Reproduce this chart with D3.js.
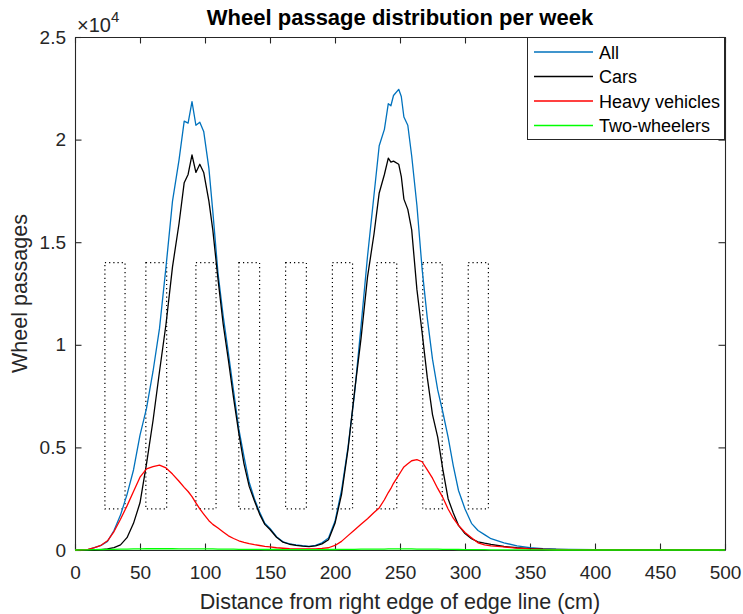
<!DOCTYPE html>
<html>
<head>
<meta charset="utf-8">
<script src="https://cdn.jsdelivr.net/npm/d3@7"></script>
<style>
  body { margin: 0; background: #fff; }
  svg { display: block; font-family: "Liberation Sans", Arial, sans-serif; }
  .axis text { fill: #262626; font-size: 19px; }
  .axis path, .axis line { stroke: #262626; }
</style>
</head>
<body>
<svg id="chart"></svg>
<script>
// Data (distance in cm, wheel passages per week)
var distance = [0, 5, 10, 15, 20, 25, 30, 35, 40, 45, 50, 55, 60, 65, 70, 75, 80, 84, 87, 90, 93, 96, 99,
  103, 106, 110, 114, 118, 122, 126, 130, 134, 138, 142, 146, 150, 155, 160, 165, 170, 175, 180, 185,
  190, 195, 200, 205, 210, 215, 220, 225, 230, 234, 238, 241, 243, 245, 249, 251, 253, 256, 259, 263,
  267, 271, 275, 279, 283, 287, 291, 295, 300, 305, 310, 315, 320, 330, 340, 350, 360, 370, 380, 400,
  450, 500];

var allWheels = [0, 0, 20, 120, 220, 420, 950, 1700, 2700, 3900, 5600, 6900, 8700, 10800, 13800, 17000,
  19000, 20900, 20800, 21850, 20700, 20850, 20400, 18600, 16500, 13500, 11400, 9600, 7750, 5900, 4550,
  3300, 2500, 1850, 1300, 1050, 650, 400, 300, 250, 210, 180, 230, 350, 580, 1400, 2900, 5000, 7600,
  10900, 14300, 17300, 19700, 20500, 21750, 21650, 22150, 22450, 22100, 21100, 20700, 19200, 16800,
  13700, 11300, 9300, 7800, 6700, 5500, 4100, 2900, 2000, 1300, 950, 750, 550, 350, 200, 120, 70, 40,
  30, 20, 15, 10];

var cars = [0, 0, 0, 0, 20, 50, 120, 250, 600, 1300, 2300, 4200, 6300, 8700, 11000, 13800, 15900, 17900,
  18300, 19250, 18400, 18800, 18400, 17000, 15600, 13200, 11000, 9250, 7400, 5700, 4200, 3100, 2400,
  1750, 1250, 1000, 620, 380, 280, 230, 190, 160, 200, 300, 500, 1300, 2700, 4900, 7700, 10300, 13300,
  15400, 17400, 18300, 19100, 18900, 18950, 18800, 18200, 17100, 16600, 15600, 12700, 10600, 8400,
  6600, 5500, 3900, 2500, 1800, 1200, 800, 550, 400, 330, 270, 170, 110, 70, 40, 25, 20, 10, 5, 5];

var heavy = [0, 10, 30, 120, 230, 450, 900, 1500, 2150, 2850, 3550, 3950, 4060, 4140, 4000, 3700, 3350,
  3050, 2850, 2600, 2300, 2000, 1750, 1430, 1250, 1070, 880, 690, 560, 450, 370, 310, 260, 220, 180,
  150, 110, 85, 65, 55, 50, 50, 55, 75, 110, 220, 420, 700, 980, 1250, 1520, 1830, 2050, 2450, 2800,
  3000, 3250, 3650, 3850, 4050, 4200, 4350, 4400, 4300, 3900, 3500, 3000, 2550, 2000, 1550, 1200, 850,
  600, 350, 250, 200, 150, 90, 50, 30, 20, 15, 10, 5, 5];

var twoWheelers = [0, 5, 10, 20, 25, 30, 35, 40, 45, 50, 55, 60, 60, 60, 60, 60, 55, 55, 55, 55, 55, 55,
  50, 50, 50, 45, 45, 40, 40, 35, 35, 30, 30, 30, 25, 25, 25, 20, 20, 20, 20, 20, 20, 20, 25, 25, 30,
  30, 35, 40, 40, 45, 45, 45, 50, 50, 50, 50, 50, 50, 50, 50, 45, 45, 45, 40, 40, 35, 30, 30, 25, 20,
  20, 15, 15, 10, 10, 5, 5, 5, 0, 0, 0, 0, 0];

var seriesNames = ["All", "Cars", "Heavy vehicles", "Two-wheelers"];
var seriesColors = ["#0072BD", "#000000", "#FF0000", "#00FF00"];

// dotted boxes (cm ranges, passages range)
var boxStart = [23, 54.5, 93, 126, 162, 198, 232, 267.5, 302.5];
var boxEnd = [38.5, 70.5, 108.5, 142, 178, 213.5, 247.5, 282.5, 318];
var boxLow = 2000;
var boxHigh = 14000;

var xTickValues = [0, 50, 100, 150, 200, 250, 300, 350, 400, 450, 500];
var yTickValues = [0, 5000, 10000, 15000, 20000, 25000];
var yTickLabels = ["0", "0.5", "1", "1.5", "2", "2.5"];

// Setup chart dimensions and margins
var W = 743, H = 614;
var margin = { top: 37, right: 18, bottom: 64, left: 75 };
var width = W - margin.left - margin.right;
var height = H - margin.top - margin.bottom;

var x = d3.scaleLinear().domain([0, 500]).range([0, width]);
var y = d3.scaleLinear().domain([0, 25000]).range([height, 0]);

var svg = d3.select('#chart')
    .attr('width', W)
    .attr('height', H);

var g = svg.append('g')
    .attr('transform', 'translate(' + margin.left + ',' + margin.top + ')');

// dotted boxes
boxStart.forEach(function (s, i) {
  g.append('rect')
    .attr('x', x(s))
    .attr('y', y(boxHigh))
    .attr('width', x(boxEnd[i]) - x(s))
    .attr('height', y(boxLow) - y(boxHigh))
    .attr('fill', 'none')
    .attr('stroke', '#000')
    .attr('stroke-width', 1.2)
    .attr('stroke-dasharray', '1.2,3');
});

// axes
var tick = 6.5;
g.append('g')
  .attr('class', 'axis')
  .attr('transform', 'translate(0,' + height + ')')
  .call(d3.axisBottom(x).tickValues(xTickValues).tickSizeInner(-tick).tickSizeOuter(0).tickPadding(16));

g.append('g')
  .attr('class', 'axis')
  .call(d3.axisLeft(y).tickValues(yTickValues).tickSizeInner(-tick).tickSizeOuter(0).tickPadding(9)
    .tickFormat(function (d, i) { return yTickLabels[i]; }));

g.append('g')
  .attr('class', 'axis')
  .call(d3.axisTop(x).tickValues(xTickValues).tickSizeInner(-tick).tickSizeOuter(0).tickFormat(''));

g.append('g')
  .attr('class', 'axis')
  .attr('transform', 'translate(' + width + ',0)')
  .call(d3.axisRight(y).tickValues(yTickValues).tickSizeInner(-tick).tickSizeOuter(0).tickFormat(''));

g.selectAll('.axis path, .axis line').attr('stroke-width', 1.1);

// curves
var seriesValues = [allWheels, cars, heavy, twoWheelers];
var line = d3.line()
  .x(function (d, i) { return x(distance[i]); })
  .y(function (d) { return y(d); });

seriesValues.forEach(function (vals, k) {
  g.append('path')
    .datum(vals)
    .attr('fill', 'none')
    .attr('stroke', seriesColors[k])
    .attr('stroke-width', 1.3)
    .attr('stroke-linejoin', 'round')
    .attr('d', line);
});

// exponent label
var expo = svg.append('text')
  .attr('x', 77)
  .attr('y', 32)
  .style('font-size', '20px')
  .style('fill', '#262626');
expo.append('tspan').style('font-weight', '300').text('\u00d7');
expo.append('tspan').text('10');
expo.append('tspan').attr('dy', -10).style('font-size', '15px').text('4');

// title
svg.append('text')
  .attr('x', margin.left + width / 2)
  .attr('y', 25)
  .attr('text-anchor', 'middle')
  .style('font-size', '22px')
  .style('font-weight', 'bold')
  .style('fill', '#000')
  .text('Wheel passage distribution per week');

// axis labels
svg.append('text')
  .attr('x', margin.left + width / 2)
  .attr('y', 609)
  .attr('text-anchor', 'middle')
  .style('font-size', '21.5px')
  .style('fill', '#262626')
  .text('Distance from right edge of edge line (cm)');

svg.append('text')
  .attr('transform', 'translate(27,' + (margin.top + height / 2) + ') rotate(-90)')
  .attr('text-anchor', 'middle')
  .style('font-size', '21.5px')
  .style('fill', '#262626')
  .text('Wheel passages');

// legend
var lg = svg.append('g');
lg.append('rect')
  .attr('x', 527.5)
  .attr('y', 37.5)
  .attr('width', 197)
  .attr('height', 102)
  .attr('fill', '#fff')
  .attr('stroke', '#262626')
  .attr('stroke-width', 1);

seriesNames.forEach(function (name, k) {
  var cy = 52 + k * 24.5;
  lg.append('line')
    .attr('x1', 534).attr('x2', 593)
    .attr('y1', cy).attr('y2', cy)
    .attr('stroke', seriesColors[k])
    .attr('stroke-width', 1.3);
  lg.append('text')
    .attr('x', 599)
    .attr('y', cy + 6.5)
    .style('font-size', '18px')
    .style('fill', '#000')
    .text(name);
});
</script>
</body>
</html>
